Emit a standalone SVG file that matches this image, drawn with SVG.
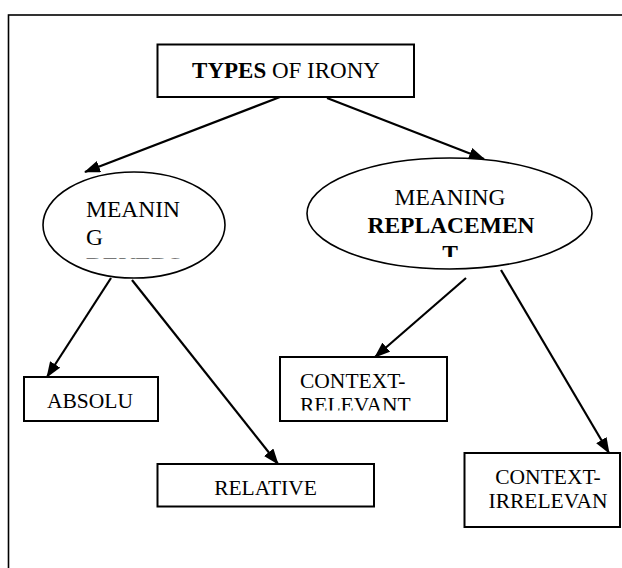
<svg xmlns="http://www.w3.org/2000/svg" width="622" height="568" viewBox="0 0 622 568">
  <style>
    .t { font-family: "Liberation Serif", "Times New Roman", serif; fill: #000; }
    .box { fill: #fff; stroke: #000; stroke-width: 2; }
    .ell { fill: #fff; stroke: #000; stroke-width: 1.6; }
    .con { stroke: #000; stroke-width: 2.2; fill: none; marker-end: url(#ah); }
  </style>
  <defs>
    <marker id="ah" viewBox="0 0 16 12" refX="15" refY="6" markerWidth="16" markerHeight="12" markerUnits="userSpaceOnUse" orient="auto">
      <path d="M0,0 L16,6 L0,12 z" fill="#000"/>
    </marker>
    <clipPath id="clipL"><rect x="80" y="185" width="120" height="73.5"/></clipPath>
    <clipPath id="clipR"><rect x="330" y="180" width="240" height="77"/></clipPath>
    <clipPath id="clipCR"><rect x="282" y="359" width="163" height="51.5"/></clipPath>
  </defs>
  <rect x="8.5" y="15" width="700" height="700" fill="#fff" stroke="#000" stroke-width="1.6"/>

  <g id="connectors">
    <line class="con" x1="280" y1="97" x2="85" y2="172"/>
    <line class="con" x1="327" y1="98" x2="484" y2="159"/>
    <line class="con" x1="111" y1="278" x2="47" y2="377"/>
    <line class="con" x1="132" y1="280" x2="278" y2="464"/>
    <line class="con" x1="466" y1="278" x2="375" y2="357"/>
    <line class="con" x1="501" y1="270" x2="609" y2="453"/>
  </g>

  <g id="types">
    <rect class="box" x="157.5" y="44.5" width="256.5" height="52.5"/>
    <text class="t" x="286" y="78" font-size="23" text-anchor="middle"><tspan font-weight="bold">TYPES</tspan> OF IRONY</text>
  </g>

  <g id="meaning-reversal">
    <ellipse class="ell" cx="134" cy="225" rx="91" ry="53"/>
    <g clip-path="url(#clipL)">
      <text class="t" x="86" y="216.5" font-size="23.5">MEANIN</text>
      <text class="t" x="86" y="244.5" font-size="23.5">G</text>
      <text class="t" x="86" y="272.5" font-size="23.5" font-weight="bold">REVERS</text>
    </g>
  </g>

  <g id="meaning-replacement">
    <ellipse class="ell" cx="449.5" cy="213.5" rx="142.5" ry="55.5"/>
    <g clip-path="url(#clipR)">
      <text class="t" x="450" y="205" font-size="23.5" text-anchor="middle">MEANING</text>
      <text class="t" x="451" y="233" font-size="23.5" text-anchor="middle" font-weight="bold">REPLACEMEN</text>
      <text class="t" x="450" y="261" font-size="23.5" text-anchor="middle" font-weight="bold">T</text>
    </g>
  </g>

  <g id="absolute">
    <rect class="box" x="24" y="377" width="134" height="44"/>
    <text class="t" x="90" y="408" font-size="21.5" text-anchor="middle">ABSOLU</text>
  </g>

  <g id="relative">
    <rect class="box" x="157.5" y="464" width="216.5" height="42.5"/>
    <text class="t" x="265.5" y="495" font-size="21.5" text-anchor="middle">RELATIVE</text>
  </g>

  <g id="context-relevant">
    <rect class="box" x="280" y="357" width="167" height="64"/>
    <g clip-path="url(#clipCR)">
      <text class="t" x="300" y="388" font-size="21.5">CONTEXT-</text>
      <text class="t" x="300" y="412" font-size="21.5">RELEVANT</text>
    </g>
  </g>

  <g id="context-irrelevant">
    <rect class="box" x="464.5" y="453" width="155.5" height="74"/>
    <text class="t" x="548" y="483.5" font-size="21.5" text-anchor="middle">CONTEXT-</text>
    <text class="t" x="548" y="508" font-size="21.5" text-anchor="middle">IRRELEVAN</text>
  </g>
</svg>
